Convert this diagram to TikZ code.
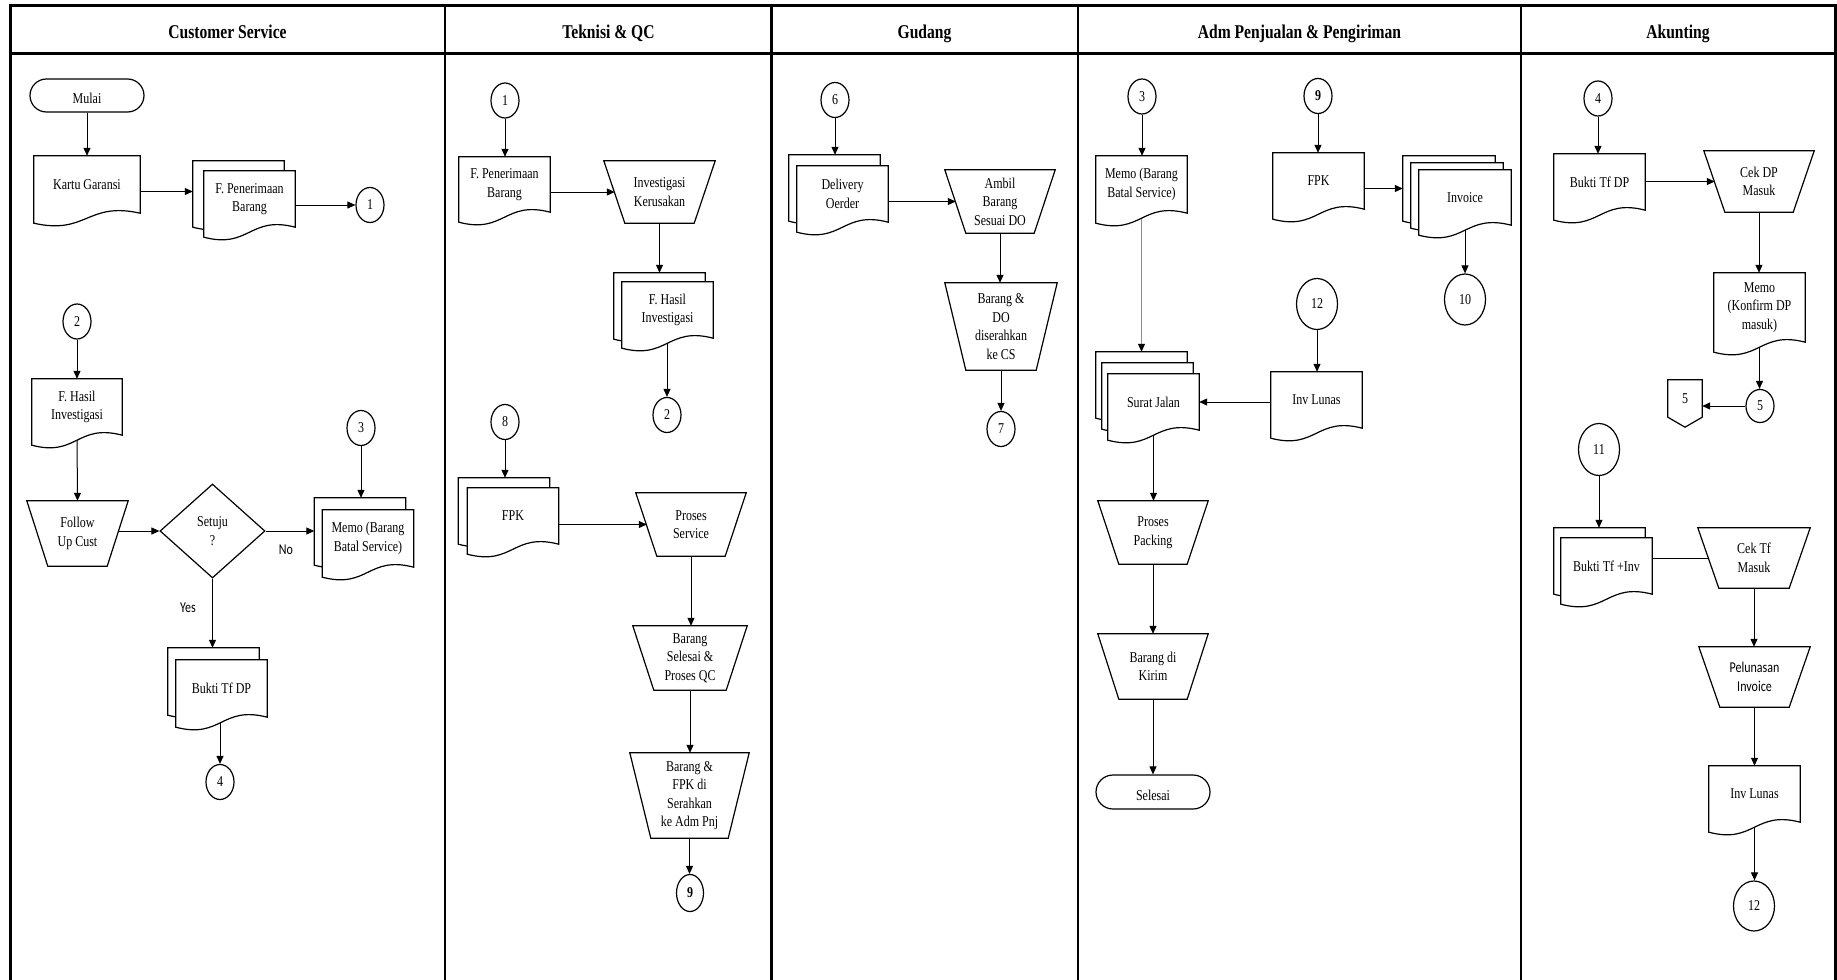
\documentclass[tikz,border=0pt]{standalone}
\usepackage{fontspec}
\setmainfont{Liberation Serif}[FakeStretch=0.8]
\newfontfamily\calib{Carlito}[FakeStretch=0.8]
\usetikzlibrary{shapes.geometric,calc,arrows.meta}
\pgfdeclarelayer{bg}
\pgfdeclarelayer{shapes}
\pgfsetlayers{bg,shapes,main}
\newcommand\fs{\fontsize{15}{18.5}\selectfont}
\newcommand\sansfs{\calib\fontsize{15}{18.5}\selectfont}
\newcommand\hdfs{\fontsize{19.5}{22}\selectfont\bfseries}

\tikzset{
  lbl/.style={font=\fs, align=center, inner sep=0pt},
  page/.style={lbl, minimum width=91, minimum height=56},
  trap/.style={lbl, minimum width=110, minimum height=63},
  circ/.style={lbl, ellipse, draw, fill=white, line width=1.2pt, minimum width=28, minimum height=35},
  bigcirc/.style={circ, minimum width=41, minimum height=51},
  term/.style={lbl, draw, fill=white, line width=1.2pt, rounded corners=16.5pt,
    minimum width=114, minimum height=33, text height=16pt, text depth=0pt},
  shp/.style={draw, fill=white, line width=1.2pt, line join=miter},
  flow/.style={line width=1pt, -{Triangle[length=8pt,width=7pt,color=black]}},
  head/.style={font=\hdfs, anchor=base},
  frame/.style={line width=3pt},
}

% document symbol with a wavy lower edge
\newcommand\docout[1]{%
  \begin{pgfonlayer}{shapes}
    \draw[shp] (#1.north west) -- (#1.north east) -- (#1.south east)
      .. controls ($(#1.south)+(0,-12)$) and ($(#1.south)+(0,22)$) .. ($(#1.south west)+(0,10)$) -- cycle;
  \end{pgfonlayer}}
% manual operation (trapezoid, wide side up)
\newcommand\trapout[1]{%
  \begin{pgfonlayer}{shapes}
    \draw[shp] (#1.north west) -- (#1.north east) -- ($(#1.south east)+(-21,0)$)
      -- ($(#1.south west)+(21,0)$) -- cycle;
  \end{pgfonlayer}}

\begin{document}
\begin{tikzpicture}[x=1pt, y=-1pt]
\useasboundingbox (0,0) rectangle (1837,980);
\begin{pgfonlayer}{bg}
  \fill[white] (0,0) rectangle (1837,980);
\end{pgfonlayer}

% ---------- lanes ----------
\draw[frame] (10,980) -- (10,5) -- (1835,5) -- (1835,980);
\draw[frame] (10,53) -- (1835,53);
\foreach \lx in {445,771.5,1078,1521}
  \draw[line width=2.5pt] (\lx,5) -- (\lx,980);
\node[head] (h1) at (227.5,38.5) {Customer Service};
\node[head] (h2) at (608.5,38.5) {Teknisi \& QC};
\node[head] (h3) at (924.5,38.5) {Gudang};
\node[head] (h4) at (1299.5,38.5) {Adm Penjualan \& Pengiriman};
\node[head] (h5) at (1678,38.5) {Akunting};

% ---------- Customer Service ----------
\node[term] (mulai) at (87,95.5) {Mulai};
\node[page, minimum width=106, minimum height=57] (kartu) at (87,184.5) {Kartu Garansi};
\docout{kartu}
\node[page] (fpenB) at (238.5,189) {};
\node[page] (fpen) at (249.5,199) {F. Penerimaan\\Barang};
\docout{fpenB}\docout{fpen}
\node[circ] (c1) at (370,205) {1};
\node[circ] (c2) at (77,321.5) {2};
\node[page, minimum width=90] (fhasil) at (77,407) {F. Hasil\\Investigasi};
\docout{fhasil}
\node[trap, minimum width=101, minimum height=65] (follow) at (77.5,533.5) {Follow\\Up Cust};
\trapout{follow}
\node[lbl, diamond, draw, fill=white, line width=1.2pt, aspect=1.117,
      minimum width=105, minimum height=94] (setuju) at (212.5,531) {Setuju\\?};
\node[circ] (c3) at (361,428) {3};
\node[page, minimum height=57] (memoB) at (360,526.5) {};
\node[page, minimum height=57] (memo) at (368,538.5) {Memo (Barang\\Batal Service)};
\docout{memoB}\docout{memo}
\node[page, minimum height=57] (buktiB) at (213.5,676.5) {};
\node[page, minimum height=57] (bukti) at (221.5,688.5) {Bukti Tf DP};
\docout{buktiB}\docout{bukti}
\node[circ] (c4) at (220,782) {4};
\node[font=\sansfs, inner sep=0pt] (no) at (286,550) {No};
\node[font=\sansfs, inner sep=0pt] (yes) at (188,608) {Yes};

% ---------- Teknisi & QC ----------
\node[circ] (t1) at (505,100.5) {1};
\node[page, minimum height=55] (fpen2) at (504.5,184.5) {F. Penerimaan\\Barang};
\docout{fpen2}
\node[trap, minimum width=111, minimum height=62] (invest) at (659.5,192) {Investigasi\\Kerusakan};
\trapout{invest}
\node[page] (fhasil2B) at (659.5,301) {};
\node[page] (fhasil2) at (667.5,310) {F. Hasil\\Investigasi};
\docout{fhasil2B}\docout{fhasil2}
\node[circ] (t2) at (667,415) {2};
\node[circ] (t8) at (505,422) {8};
\node[page] (fpkB) at (504,506) {};
\node[page] (fpk) at (513,516) {FPK};
\docout{fpkB}\docout{fpk}
\node[trap] (proses) at (691,524.5) {Proses\\Service};
\trapout{proses}
\node[trap, minimum width=114, minimum height=64] (selqc) at (690,658) {Barang\\Selesai \&\\Proses QC};
\trapout{selqc}
\node[trap, minimum width=119, minimum height=85] (serah) at (689.5,795.5) {Barang \&\\FPK di\\Serahkan\\ke Adm Pnj};
\trapout{serah}
\node[circ, font=\fs\bfseries, minimum width=27, minimum height=37] (t9) at (690,893) {9};

% ---------- Gudang ----------
\node[circ] (g6) at (835,100) {6};
\node[page] (doB) at (834.5,183) {};
\node[page] (do) at (842.5,194) {Delivery\\Oerder};
\docout{doB}\docout{do}
\node[trap] (ambil) at (1000,201.5) {Ambil\\Barang\\Sesuai DO};
\trapout{ambil}
\node[trap, minimum width=112, minimum height=87] (serahcs) at (1001,326.5) {Barang \&\\DO\\diserahkan\\ke CS};
\trapout{serahcs}
\node[circ] (g7) at (1001,429) {7};

% ---------- Adm Penjualan & Pengiriman ----------
\node[circ] (a3) at (1142,96.5) {3};
\node[page, minimum height=57] (memo2) at (1141.5,184.5) {Memo (Barang\\Batal Service)};
\docout{memo2}
\node[circ, font=\fs\bfseries] (a9) at (1318,96) {9};
\node[page] (fpk2) at (1318.5,181) {FPK};
\docout{fpk2}
\node[page, minimum width=92, minimum height=55] (inv1) at (1449,183.5) {};
\node[page, minimum width=92, minimum height=55] (inv2) at (1457,190.5) {};
\node[page, minimum width=92, minimum height=55] (inv) at (1465,197.5) {Invoice};
\docout{inv1}\docout{inv2}\docout{inv}
\node[bigcirc] (a10) at (1465,299.5) {10};
\node[bigcirc] (a12) at (1317,304) {12};
\node[page] (invl) at (1316.5,400) {Inv Lunas};
\docout{invl}
\node[page] (sj1) at (1141.5,380) {};
\node[page] (sj2) at (1147.5,391) {};
\node[page] (sj) at (1153.5,402) {Surat Jalan};
\docout{sj1}\docout{sj2}\docout{sj}
\node[trap] (packing) at (1153,532.5) {Proses\\Packing};
\trapout{packing}
\node[trap, minimum height=65] (kirim) at (1153,666.5) {Barang di\\Kirim};
\trapout{kirim}
\node[term, minimum height=34, rounded corners=17pt] (selesai) at (1153,792) {Selesai};

% ---------- Akunting ----------
\node[circ] (k4) at (1598,98.5) {4};
\node[page] (bukti2) at (1599.5,182) {Bukti Tf DP};
\docout{bukti2}
\node[trap, minimum height=61] (cekdp) at (1759,181.5) {Cek DP\\Masuk};
\trapout{cekdp}
\node[page, minimum height=69] (memo3) at (1759.5,307.5) {Memo\\(Konfirm DP\\masuk)};
\docout{memo3}
\node[circ, minimum height=33] (k5) at (1760,406) {5};
\node[lbl, minimum width=34, minimum height=37] (op5) at (1685,398.5) {5};
\begin{pgfonlayer}{shapes}
  \draw[shp] (op5.north west) -- (op5.north east) -- (op5.south east)
    -- ([yshift=-10pt]op5.south) -- (op5.south west) -- cycle;
\end{pgfonlayer}
\node[bigcirc, minimum height=52] (k11) at (1599,449.5) {11};
\node[page] (btinvB) at (1599.5,556) {};
\node[page] (btinv) at (1606.5,566) {Bukti Tf +Inv};
\docout{btinvB}\docout{btinv}
\node[trap, minimum width=112, minimum height=60] (cektf) at (1754,558) {Cek Tf\\Masuk};
\trapout{cektf}
\node[trap, minimum width=111, minimum height=60, font=\sansfs] (lunas) at (1754.5,677) {Pelunasan\\Invoice};
\trapout{lunas}
\node[page] (invl2) at (1754.5,794) {Inv Lunas};
\docout{invl2}
\node[bigcirc, minimum height=50] (k12) at (1754,906) {12};

% ---------- connectors ----------
\begin{pgfonlayer}{bg}
  % Customer Service
  \draw[flow] (mulai.south) -- (kartu.north);
  \draw[flow] ([yshift=-7pt]kartu.east) -- ([yshift=-7pt]kartu.east -| fpenB.west);
  \draw[flow] (fpen.east |- c1.west) -- (c1.west);
  \draw[flow] (c2.south) -- (fhasil.north);
  \draw[flow] (fhasil.south) -- (follow.north);
  \draw[flow] ([xshift=-10pt]setuju.west -| follow.east) -- (setuju.west);
  \draw[flow] (setuju.east) -- (setuju.east -| memoB.west);
  \draw[flow] (c3.south) -- (c3.south |- memoB.north);
  \draw[flow] (setuju.south) -- (setuju.south |- buktiB.north);
  \draw[flow] (c4.north |- bukti.south) -- (c4.north);
  % Teknisi & QC
  \draw[flow] (t1.south) -- (t1.south |- fpen2.north);
  \draw[flow] (invest.west -| fpen2.east) -- ([xshift=11pt]invest.west);
  \draw[flow] (invest.south) -- (invest.south |- fhasil2B.north);
  \draw[flow] (t2.north |- fhasil2.south) -- (t2.north);
  \draw[flow] (t8.south) -- (t8.south |- fpkB.north);
  \draw[flow] (proses.west -| fpk.east) -- ([xshift=11pt]proses.west);
  \draw[flow] (proses.south) -- (proses.south |- selqc.north);
  \draw[flow] (selqc.south) -- (selqc.south |- serah.north);
  \draw[flow] (serah.south) -- (serah.south |- t9.north);
  % Gudang
  \draw[flow] (g6.south) -- (g6.south |- doB.north);
  \draw[flow] (ambil.west -| do.east) -- ([xshift=11pt]ambil.west);
  \draw[flow] (ambil.south) -- (ambil.south |- serahcs.north);
  \draw[flow] (serahcs.south) -- (serahcs.south |- g7.north);
  % Adm Penjualan & Pengiriman
  \draw[flow] (a3.south) -- (a3.south |- memo2.north);
  \draw[flow, draw=black!45] (memo2.south) -- (memo2.south |- sj1.north);
  \draw[flow] (a9.south) -- (a9.south |- fpk2.north);
  \draw[flow] ([yshift=-5pt]inv1.west -| fpk2.east) -- ([yshift=-5pt]inv1.west);
  \draw[flow] (inv.south) -- (inv.south |- a10.north);
  \draw[flow] (a12.south) -- (a12.south |- invl.north);
  \draw[flow] (sj.east -| invl.west) -- (sj.east);
  \draw[flow] (sj.south) -- (sj.south |- packing.north);
  \draw[flow] (packing.south) -- (packing.south |- kirim.north);
  \draw[flow] (kirim.south) -- (kirim.south |- selesai.north);
  % Akunting
  \draw[flow] (k4.south) -- (k4.south |- bukti2.north);
  \draw[flow] (cekdp.west -| bukti2.east) -- ([xshift=11pt]cekdp.west);
  \draw[flow] (cekdp.south) -- (cekdp.south |- memo3.north);
  \draw[flow] (memo3.south) -- (memo3.south |- k5.north);
  \draw[flow] (k5.west) -- (k5.west -| op5.east);
  \draw[flow] (k11.south) -- (k11.south |- btinvB.north);
  \draw[line width=1pt] (cektf.west -| btinv.east) -- ([xshift=11pt]cektf.west);
  \draw[flow] (cektf.south) -- (cektf.south |- lunas.north);
  \draw[flow] (lunas.south) -- (lunas.south |- invl2.north);
  \draw[flow] (invl2.south) -- (invl2.south |- k12.north);
\end{pgfonlayer}
\end{tikzpicture}
\end{document}
